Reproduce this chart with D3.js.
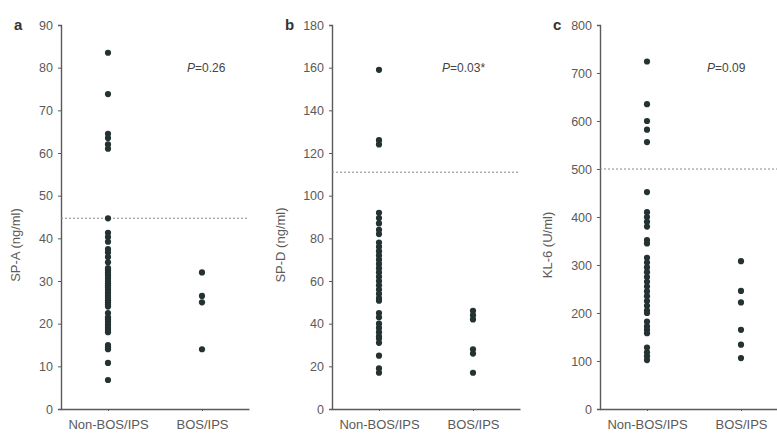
<!DOCTYPE html>
<html><head><meta charset="utf-8">
<script src="https://cdn.jsdelivr.net/npm/d3@7"></script>
<style>body{margin:0;background:#fff}svg{display:block}text{font-family:"Liberation Sans",Arial,sans-serif}</style>
</head><body><svg id="c" width="777" height="436"></svg>
<script>
const categories = ["Non-BOS/IPS", "BOS/IPS"];
const spaNon = [83.5,73.8,64.5,63.5,62,61,44.7,41.3,40.3,39.2,37.5,36.7,35.6,34.4,33,32.5,32,31.5,31,30.5,30,29.5,29,28.5,28,27.5,27,26.5,26,25.5,25,24.5,24,22.5,21.5,21,20.5,20,19.5,19,18.5,18,15,14.5,14,10.8,6.8];
const spaBos = [32,26.5,25,14];
const spdNon = [159,126,124,92,89.5,87,84,82,78,76,74,72,70,68,66,64,62,60,58,56,54,52,50.8,45,43,40,38,36,34,33,31,25,19,17];
const spdBos = [46,44,42,28,26,17];
const klNon = [724,635,600,582,556,452,410,400,390,380,352,345,315,305,295,285,275,265,255,245,235,225,215,205,200,182,172,165,158,128,118,110,102];
const klBos = [308,246,222,165,134,106];
const panels = [
  {letter:"a", label:"SP-A (ng/ml)", max:90, step:10, cut:44.7, p:"=0.26", non:spaNon, bos:spaBos, x0:61, lx:20, px:187},
  {letter:"b", label:"SP-D (ng/ml)", max:180, step:20, cut:111, p:"=0.03*", non:spdNon, bos:spdBos, x0:332, lx:285, px:442},
  {letter:"c", label:"KL-6 (U/ml)", max:800, step:100, cut:500, p:"=0.09", non:klNon, bos:klBos, x0:600, lx:552, px:707}
];
const svg = d3.select("#c");
const axisCol = "#5a5a5a", txtCol = "#5a5a5a", dotCol = "#243232";
panels.forEach(P => {
  const g = svg.append("g");
  const y = d3.scaleLinear().domain([0, P.max]).range([409, 25]);
  const x = d3.scalePoint().domain(categories).range([P.x0, P.x0 + 188]).padding(0.5);
  const ya = d3.axisLeft(y).tickValues(d3.range(0, P.max + 1, P.step)).tickSize(3).tickPadding(5);
  const yg = g.append("g").attr("transform", `translate(${P.x0},0)`).call(ya);
  yg.select(".domain").attr("stroke", axisCol).attr("stroke-width", 1.4);
  yg.selectAll(".tick line").attr("stroke", axisCol);
  yg.selectAll(".tick text").attr("fill", txtCol).attr("font-size", 12.5);
  const xa = d3.axisBottom(x).tickSize(2).tickSizeOuter(0).tickPadding(9);
  const xg = g.append("g").attr("transform", "translate(0,409)").call(xa);
  xg.select(".domain").attr("stroke", axisCol).attr("stroke-width", 1.4);
  xg.selectAll(".tick line").attr("stroke", axisCol);
  xg.selectAll(".tick text").attr("fill", txtCol).attr("font-size", 13);
  g.append("line").attr("x1", P.x0).attr("x2", P.x0 + 186).attr("y1", y(P.cut)).attr("y2", y(P.cut))
    .attr("stroke", "#888").attr("stroke-width", 1).attr("stroke-dasharray", "2,2");
  const pts = P.non.map(v => ({c: categories[0], v})).concat(P.bos.map(v => ({c: categories[1], v})));
  g.selectAll("circle.d").data(pts).enter().append("circle").attr("class", "d")
    .attr("cx", d => x(d.c)).attr("cy", d => y(d.v)).attr("r", 3.1).attr("fill", dotCol);
  g.append("text").attr("x", P.x0 - 47).attr("y", 30).attr("font-weight", "bold").attr("font-size", 15)
    .attr("fill", "#333").text(P.letter);
  g.append("text").attr("transform", `translate(${P.lx},245) rotate(-90)`).attr("text-anchor", "middle")
    .attr("font-size", 13).attr("fill", txtCol).text(P.label);
  const t = g.append("text").attr("x", P.px).attr("y", 72).attr("font-size", 12).attr("fill", "#444");
  t.append("tspan").attr("font-style", "italic").text("P");
  t.append("tspan").text(P.p);
});
</script></body></html>
